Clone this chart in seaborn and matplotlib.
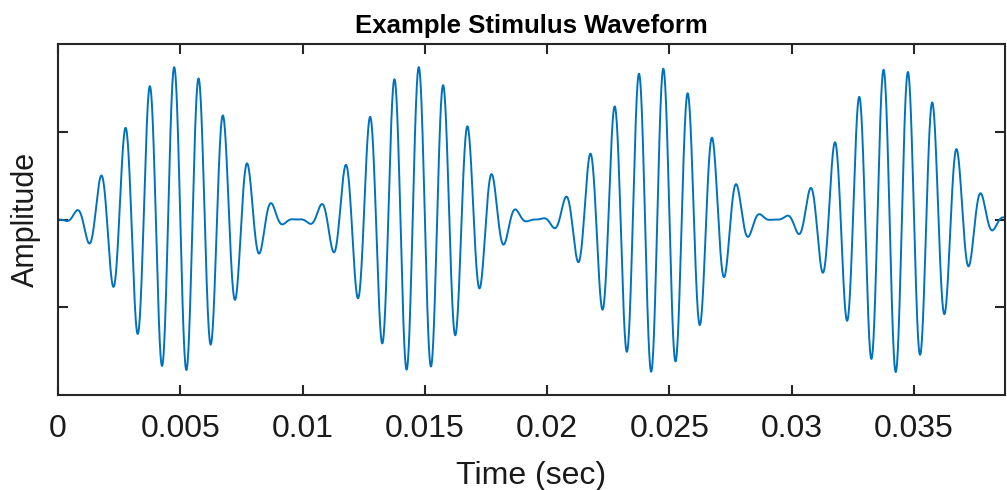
import numpy as np
import pandas as pd
import matplotlib
matplotlib.use("Agg")
import matplotlib.pyplot as plt
import seaborn as sns

# ---- values ----
# Stimulus: 100% sinusoidally amplitude-modulated tone
carrier_hz = [1000.0]          # carrier frequency (peak spacing ~1 ms)
modulation_hz = [102.4]        # envelope repetition rate (bursts ~9.77 ms apart)
peak_amplitude = [0.87]        # largest excursion of the waveform
carrier_phase_sign = [-1.0]    # waveform first swings upward, starting at 0
duration_sec = [0.0387]        # visible time span
n_samples = [4000]

x_ticks = [0, 0.005, 0.01, 0.015, 0.02, 0.025, 0.03, 0.035]
x_tick_labels = ["0", "0.005", "0.01", "0.015", "0.02", "0.025", "0.03", "0.035"]
y_ticks = [-0.5, 0.0, 0.5]
y_limits = [-1.0, 1.0]

title_text = "Example Stimulus Waveform"
x_label = "Time (sec)"
y_label = "Amplitude"

# ---- build the waveform table ----
t = np.linspace(0, duration_sec[0], n_samples[0])
envelope = peak_amplitude[0] * np.sin(np.pi * modulation_hz[0] * t) ** 2
wave = carrier_phase_sign[0] * envelope * np.sin(2 * np.pi * carrier_hz[0] * t)
df = pd.DataFrame({"Time": t, "Amplitude": wave})

sns.set_theme(style="white")
plt.rcParams["font.family"] = ["Liberation Sans", "DejaVu Sans"]

fig = plt.figure(figsize=(10.07, 4.90), dpi=100)
ax = fig.add_axes([0.0576, 0.194, 0.940, 0.716])

sns.lineplot(data=df, x="Time", y="Amplitude", ax=ax, color="#0072BD",
             linewidth=1.4, estimator=None)

ax.set_xlim(0, duration_sec[0])
ax.set_ylim(*y_limits)
ax.set_xticks(x_ticks)
ax.set_xticklabels(x_tick_labels)
ax.set_yticks(y_ticks)
ax.set_yticklabels([])

edge = "#262626"
for s in ax.spines.values():
    s.set_visible(True)
    s.set_color(edge)
    s.set_linewidth(1.5)

ax.tick_params(axis="both", which="both", direction="in", length=7.5, width=1.5,
               color=edge, top=True, right=True, bottom=True, left=True,
               labelsize=23, labelcolor="#1a1a1a", pad=14)

ax.set_title(title_text, fontsize=18.5, fontweight="bold", color="black", pad=8)
ax.set_xlabel(x_label, fontsize=23, color="#1a1a1a", labelpad=12)
ax.set_ylabel(y_label, fontsize=22, color="#1a1a1a", labelpad=-2)
ax.grid(False)

fig.savefig("out.png", dpi=100)
